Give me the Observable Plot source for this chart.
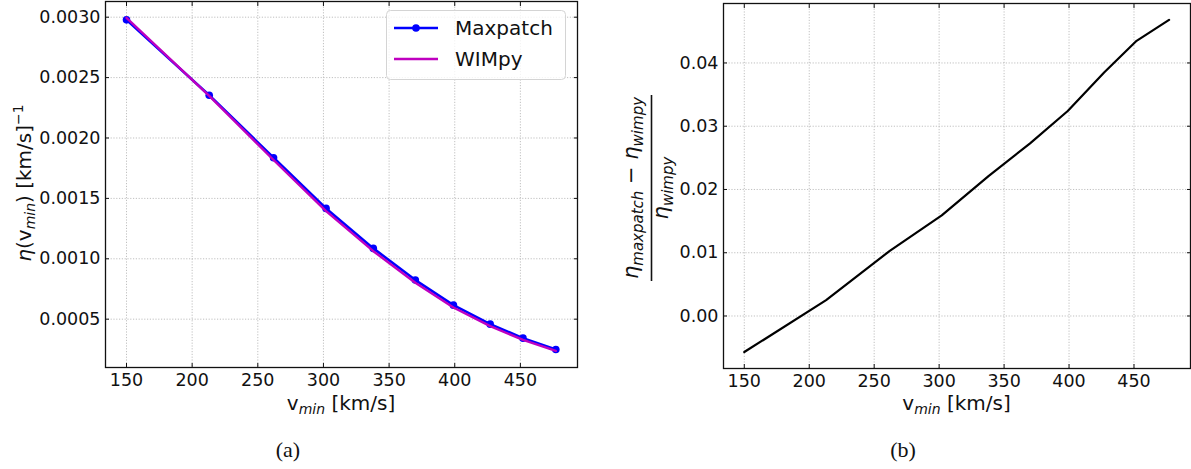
<!DOCTYPE html>
<html><head><meta charset="utf-8">
<script src="https://cdn.jsdelivr.net/npm/d3@7"></script>
<script src="https://cdn.jsdelivr.net/npm/@observablehq/plot@0.6"></script>
<style>
body{margin:0;background:#fff;}
#wrap{position:relative;width:1191px;height:469px;overflow:hidden;background:#fff;}
#wrap svg{position:absolute;top:0;}
</style></head><body><div id="wrap"></div>
<script>
// ---- data ----
const vmin = [150, 213, 262, 302, 338, 370, 399, 427, 452, 477];
const etaMaxpatch = [0.002978, 0.002354, 0.001837, 0.001417, 0.001086, 0.000824, 0.000616, 0.000459, 0.000343, 0.000249];
const etaWimpy = [0.002995, 0.002348, 0.001818, 0.001395, 0.001063, 0.000802, 0.000597, 0.000442, 0.000329, 0.000238];
const relDiff = [-0.0057, 0.0025, 0.0103, 0.0159, 0.0221, 0.0273, 0.0324, 0.0385, 0.0435, 0.0468];
const xTicks = [150, 200, 250, 300, 350, 400, 450];
const yTicksA = [0.0005, 0.0010, 0.0015, 0.0020, 0.0025, 0.0030];
const yTicksB = [0.00, 0.01, 0.02, 0.03, 0.04];
const seriesNames = ["Maxpatch", "WIMpy"];
const seriesColors = ["#0000ff", "#bf00bf"];

const maxData = vmin.map((v, i) => ({v, eta: etaMaxpatch[i]}));
const wimData = vmin.map((v, i) => ({v, eta: etaWimpy[i]}));
const diffData = vmin.map((v, i) => ({v, d: relDiff[i]}));

const FONT = "'DejaVu Sans'";
const gridStyle = {stroke: "#b0b0b0", strokeOpacity: 1, strokeDasharray: "1.2,1.6", strokeWidth: 0.8};

function axes(yTicks, yFmt) {
  return [
    Plot.gridX(xTicks, gridStyle),
    Plot.gridY(yTicks, gridStyle),
    Plot.axisX(xTicks, {anchor: "bottom", tickSize: -4, tickPadding: 10, label: null, tickFormat: d3.format("d")}),
    Plot.axisX(xTicks, {anchor: "top", tickSize: -4, fill: "none", label: null}),
    Plot.axisY(yTicks, {anchor: "left", tickSize: -4, tickPadding: 9, label: null, tickFormat: yFmt}),
    Plot.axisY(yTicks, {anchor: "right", tickSize: -4, fill: "none", label: null}),
    Plot.frame({stroke: "#111", strokeWidth: 1.3})
  ];
}

const wrap = document.getElementById("wrap");

// ---- panel (a) ----
const chartA = Plot.plot({
  width: 600, height: 469,
  marginLeft: 105, marginRight: 23, marginTop: 1, marginBottom: 102,
  style: {fontFamily: FONT, fontSize: "17.5px", color: "#111", background: "transparent"},
  x: {domain: [134, 493.5]},
  y: {domain: [0.0001, 0.00313]},
  marks: [
    ...axes(yTicksA, d3.format(".4f")),
    Plot.line(maxData, {x: "v", y: "eta", stroke: seriesColors[0], strokeWidth: 2.6}),
    Plot.dot(maxData, {x: "v", y: "eta", r: 3.8, fill: seriesColors[0], stroke: "none"}),
    Plot.line(wimData, {x: "v", y: "eta", stroke: seriesColors[1], strokeWidth: 2.4})
  ]
});
chartA.style.left = "0px";
wrap.appendChild(chartA);

// ---- panel (b) ----
const chartB = Plot.plot({
  width: 591, height: 469,
  marginLeft: 123, marginRight: 1, marginTop: 3, marginBottom: 101,
  style: {fontFamily: FONT, fontSize: "17.5px", color: "#111", background: "transparent"},
  x: {domain: [134, 493.5]},
  y: {domain: [-0.0083, 0.0494]},
  marks: [
    ...axes(yTicksB, d3.format(".2f")),
    Plot.line(diffData, {x: "v", y: "d", stroke: "#000", strokeWidth: 2.2})
  ]
});
chartB.style.left = "600px";
wrap.appendChild(chartB);

// ---- annotations: labels, legend, captions ----
function xLabel(svg, cx) {
  const t = d3.select(svg).append("text")
    .attr("x", cx).attr("y", 410).attr("text-anchor", "middle")
    .attr("font-family", FONT).attr("font-size", 20).attr("fill", "#111");
  t.append("tspan").text("v");
  t.append("tspan").attr("font-style", "italic").attr("font-size", 14).attr("dy", 4).text("min");
  t.append("tspan").attr("dy", -4).text(" [km/s]");
}
function caption(svg, cx, s) {
  d3.select(svg).append("text")
    .attr("x", cx).attr("y", 457).attr("text-anchor", "middle")
    .attr("font-family", "'Liberation Serif'").attr("font-size", 22).attr("fill", "#111").text(s);
}

const sA = d3.select(chartA);
xLabel(chartA, 341);
caption(chartA, 288, "(a)");
{
  const t = sA.append("text").attr("transform", "translate(31,183) rotate(-90)")
    .attr("text-anchor", "middle").attr("font-family", FONT).attr("font-size", 20).attr("fill", "#111");
  t.append("tspan").attr("font-style", "italic").text("η");
  t.append("tspan").text("(v");
  t.append("tspan").attr("font-style", "italic").attr("font-size", 14).attr("dy", 4).text("min");
  t.append("tspan").attr("dy", -4).text(") [km/s]");
  t.append("tspan").attr("font-size", 14).attr("dy", -8).text("−1");
}
// legend
{
  const g = sA.append("g");
  g.append("rect").attr("x", 386.5).attr("y", 10.5).attr("width", 179).attr("height", 69)
    .attr("rx", 4).attr("fill", "#fff").attr("fill-opacity", 0.8).attr("stroke", "#d4d4d4");
  seriesNames.forEach((name, i) => {
    const y = 28 + i * 31;
    g.append("line").attr("x1", 394).attr("x2", 438).attr("y1", y).attr("y2", y)
      .attr("stroke", seriesColors[i]).attr("stroke-width", 2.6);
    if (i === 0) g.append("circle").attr("cx", 416).attr("cy", y).attr("r", 3.8).attr("fill", seriesColors[i]);
    g.append("text").attr("x", 455).attr("y", y).attr("dy", "0.36em").attr("text-anchor", "start")
      .attr("font-family", FONT).attr("font-size", 20).attr("fill", "#111").text(name);
  });
}

const sB = d3.select(chartB);
xLabel(chartB, 356.5);
caption(chartB, 303, "(b)");
{
  const num = sB.append("text").attr("transform", "translate(38,188) rotate(-90)")
    .attr("text-anchor", "middle").attr("font-family", FONT).attr("font-size", 21).attr("fill", "#111");
  num.append("tspan").attr("font-style", "italic").text("η");
  num.append("tspan").attr("font-style", "italic").attr("font-size", 15).attr("dy", 5).text("maxpatch");
  num.append("tspan").attr("dy", -5).text(" − ");
  num.append("tspan").attr("font-style", "italic").text("η");
  num.append("tspan").attr("font-style", "italic").attr("font-size", 15).attr("dy", 5).text("wimpy");
  sB.append("line").attr("x1", 51.5).attr("x2", 51.5).attr("y1", 95).attr("y2", 281)
    .attr("stroke", "#111").attr("stroke-width", 1.6);
  const den = sB.append("text").attr("transform", "translate(68,188) rotate(-90)")
    .attr("text-anchor", "middle").attr("font-family", FONT).attr("font-size", 21).attr("fill", "#111");
  den.append("tspan").attr("font-style", "italic").text("η");
  den.append("tspan").attr("font-style", "italic").attr("font-size", 15).attr("dy", 5).text("wimpy");
}
</script></body></html>
